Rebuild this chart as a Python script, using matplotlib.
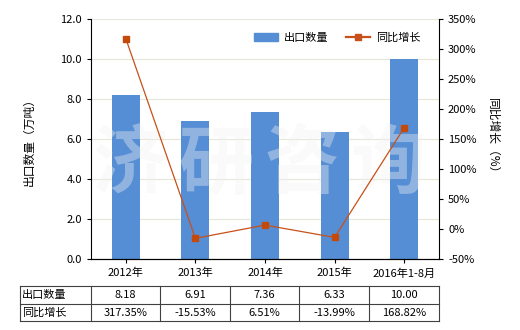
import matplotlib
matplotlib.use("Agg")
import matplotlib.pyplot as plt
from matplotlib.lines import Line2D
import numpy as np

plt.rcParams["font.family"] = ["Noto Sans CJK SC", "DejaVu Sans"]

categories = ["2012年", "2013年", "2014年", "2015年", "2016年1-8月"]
export_qty = [8.18, 6.91, 7.36, 6.33, 10.00]
yoy_growth = [317.35, -15.53, 6.51, -13.99, 168.82]
row_labels = ["出口数量", "同比增长"]
watermark = "济研咨询"

bar_color = "#558ed5"
line_color = "#c8501a"
fs = 8

fig = plt.figure(figsize=(5.2, 3.3), dpi=100)
ax = fig.add_axes([91 / 520, 1 - 259 / 330, 348 / 520, 240 / 330])
x = np.arange(len(categories))

ax.bar(x, export_qty, width=0.4, color=bar_color, zorder=2, label="出口数量")
ax.set_ylim(0, 12)
ax.set_yticks(np.arange(0, 12.1, 2))
ax.set_yticklabels([f"{v:.1f}" for v in np.arange(0, 12.1, 2)], fontsize=fs)
ax.set_xlim(-0.5, len(categories) - 0.5)
ax.set_xticks(x)
ax.set_xticklabels(categories, fontsize=fs)
ax.grid(axis="y", color="#e8e6d8", linewidth=0.8, zorder=0)
ax.spines["top"].set_visible(False)
ax.spines["right"].set_visible(False)
ax.tick_params(axis="both", length=3, width=0.8, direction="out")
ax.set_ylabel("出口数量（万吨）", fontsize=fs + 0.5, labelpad=18)

# watermark, one character at a time, above the bars but under the line
for i, ch in enumerate(watermark):
    ax.text((130 + 86 * i - 91) / 348, (259 - 165) / 240, ch, transform=ax.transAxes,
            fontsize=54, color="#f2f2f2", alpha=0.38, ha="center", va="center",
            fontweight="bold", zorder=3)

ax2 = ax.twinx()
ax2.plot(x, yoy_growth, color=line_color, linewidth=0.9, marker="s",
         markersize=4, markerfacecolor="#c44a0c", markeredgecolor="#c44a0c", zorder=3)
ax2.set_ylim(-50, 350)
ax2.set_yticks(np.arange(-50, 351, 50))
ax2.set_yticklabels([f"{v}%" for v in range(-50, 351, 50)], fontsize=fs)
ax2.spines["top"].set_visible(False)
ax2.spines["left"].set_visible(False)
ax2.tick_params(axis="y", length=3, width=0.8, direction="out")
ax2.set_ylabel("同比增长（%）", fontsize=fs + 0.5, rotation=-90, labelpad=16)

# legend
handles = [plt.Rectangle((0, 0), 1, 1, color=bar_color),
           Line2D([0], [0], color=line_color, linewidth=1.6, marker="s", markersize=4)]
ax2.legend(handles, ["出口数量", "同比增长"], loc="upper right", bbox_to_anchor=(0.975, 0.985),
           ncol=2, frameon=False, fontsize=fs, handlelength=2.2, handletextpad=0.5,
           columnspacing=1.6)

# data table below the chart
xs = [20, 91, 160, 230, 299, 369, 439]
ys = [286, 304, 321]
lc = "#404040"
for yy in ys:
    fig.add_artist(Line2D([xs[0] / 520, xs[-1] / 520], [1 - yy / 330, 1 - yy / 330],
                          color=lc, linewidth=0.8))
for xx in xs:
    fig.add_artist(Line2D([xx / 520, xx / 520], [1 - ys[0] / 330, 1 - ys[-1] / 330],
                          color=lc, linewidth=0.8))
rows = [[f"{v:.2f}" for v in export_qty], [f"{v:.2f}%" for v in yoy_growth]]
for r in range(2):
    yc = 1 - (ys[r] + ys[r + 1]) / 2 / 330
    fig.text((xs[0] + 2) / 520, yc, row_labels[r], fontsize=fs, ha="left", va="center")
    for c in range(len(categories)):
        fig.text((xs[c + 1] + xs[c + 2]) / 2 / 520, yc, rows[r][c], fontsize=fs,
                 ha="center", va="center")

fig.savefig("out.png", dpi=100)
